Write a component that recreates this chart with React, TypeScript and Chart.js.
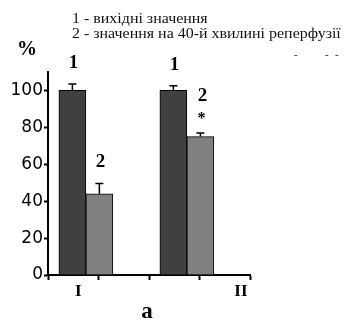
import React, { useEffect, useRef } from "react";
import { Chart, registerables } from "chart.js";

Chart.register(...registerables);

const categories = ["I", "II"];
const groupPositions = [0.75, 2.75];
const baselineValues = [100, 100];
const baselineErrors = [3.5, 2.6];
const reperfusionValues = [44, 75];
const reperfusionErrors = [5.6, 1.9];
const reperfusionMarks = ["", "*"];
const yTicks = [0, 10, 20, 30, 40, 50, 60, 70, 80, 90, 100, 110];
const legendLines = ["1 - вихідні значення", "2 - значення на 40-й хвилині реперфузії"];
const seriesNames = ["1", "2"];
const categoryLabelPositions = [0.6, 3.82];
const panelLabel = "а";
const yUnit = "%";

const annotate = {
  id: "annotate",
  afterDatasetsDraw(chart: any) {
    const ctx = chart.ctx;
    const y = chart.scales.y;
    const x = chart.scales.x;
    const errs = [baselineErrors, reperfusionErrors];
    const vals = [baselineValues, reperfusionValues];
    ctx.save();
    ctx.strokeStyle = "#000";
    ctx.fillStyle = "#000";
    ctx.lineWidth = 1.5;
    chart.data.datasets.forEach((ds: any, di: number) => {
      const meta = chart.getDatasetMeta(di);
      meta.data.forEach((el: any, i: number) => {
        const top = y.getPixelForValue(vals[di][i]);
        const et = y.getPixelForValue(vals[di][i] + errs[di][i]);
        ctx.beginPath();
        ctx.moveTo(el.x, top);
        ctx.lineTo(el.x, et);
        ctx.moveTo(el.x - 4, et);
        ctx.lineTo(el.x + 4, et);
        ctx.stroke();
        ctx.textAlign = "center";
        ctx.textBaseline = "middle";
        ctx.font = "bold 19px 'Liberation Serif'";
        if (di === 1 && reperfusionMarks[i]) {
          ctx.fillText(seriesNames[di], el.x + 2, et - 37);
          ctx.font = "bold 16px 'Liberation Serif'";
          ctx.fillText(reperfusionMarks[i], el.x + 1, et - 14);
        } else {
          ctx.fillText(seriesNames[di], el.x + 1, et - 21);
        }
      });
    });
    ctx.font = "bold 17px 'Liberation Serif'";
    ctx.textAlign = "center";
    ctx.textBaseline = "middle";
    categories.forEach((c, i) => {
      ctx.fillText(c, x.getPixelForValue(categoryLabelPositions[i]), y.bottom + 17);
    });
    ctx.font = "bold 23px 'Liberation Serif'";
    ctx.fillText(panelLabel, 147, 312);
    ctx.font = "bold 20px 'Liberation Serif'";
    ctx.fillText(yUnit, 27, 50);
    // legend (slightly stretched horizontally like the source image)
    ctx.fillStyle = "#111";
    ctx.textAlign = "left";
    ctx.save();
    ctx.translate(72, 0);
    ctx.scale(1.14, 1);
    ctx.font = "14px 'Liberation Serif'";
    legendLines.forEach((t, i) => ctx.fillText(t, 0, 19 + i * 15.5));
    ctx.restore();
    ctx.font = "11px 'Liberation Serif'";
    ctx.fillText("-", 294, 55);
    ctx.fillText("-", 325, 55);
    ctx.fillText("-", 335, 55);
    ctx.restore();
  },
};

export default function App() {
  const ref = useRef<HTMLCanvasElement>(null);
  useEffect(() => {
    if (!ref.current) return;
    const chart = new Chart(ref.current, {
      type: "bar",
      data: {
        datasets: [
          {
            label: seriesNames[0],
            data: groupPositions.map((p, i) => ({ x: p, y: baselineValues[i] })),
            backgroundColor: "#404040",
            borderColor: "#000",
            borderWidth: 1,
            barThickness: 27,
          },
          {
            label: seriesNames[1],
            data: groupPositions.map((p, i) => ({ x: p, y: reperfusionValues[i] })),
            backgroundColor: "#808080",
            borderColor: "#000",
            borderWidth: 1,
            barThickness: 27,
          },
        ],
      },
      options: {
        animation: false,
        responsive: false,
        maintainAspectRatio: false,
        devicePixelRatio: 1,
        layout: { padding: { left: 0, top: 72, right: 94, bottom: 0 } },
        plugins: { legend: { display: false }, tooltip: { enabled: false } },
        scales: {
          x: {
            type: "linear",
            min: 0,
            max: 4,
            offset: false,
            afterFit: (s: any) => {
              s.height = 47;
            },
            ticks: { stepSize: 1, callback: () => "" },
            grid: {
              offset: false,
              drawOnChartArea: false,
              drawTicks: true,
              tickLength: 5,
              tickColor: "#000",
              tickWidth: 2,
            },
            border: { display: true, color: "#000", width: 2 },
          },
          y: {
            min: 0,
            max: 110,
            afterFit: (s: any) => {
              s.width = 48;
            },
            afterBuildTicks: (s: any) => {
              s.ticks = yTicks.map((v) => ({ value: v }));
            },
            ticks: {
              callback: (v: any) => (Number(v) % 20 === 0 && Number(v) <= 100 ? String(v) : ""),
              font: { family: "'DejaVu Sans'", size: 17 },
              color: "#000",
              padding: 1,
            },
            grid: {
              drawOnChartArea: false,
              drawTicks: true,
              tickLength: 4,
              tickColor: "#000",
              tickWidth: (c: any) => (c.tick && c.tick.value % 20 === 0 ? 2 : 1.5),
            },
            border: { display: true, color: "#000", width: 2 },
          },
        },
      },
      plugins: [annotate],
    });
    return () => chart.destroy();
  }, []);
  return (
    <div style={{ position: "fixed", left: 0, top: 0, width: 344, height: 322, background: "#fff" }}>
      <canvas ref={ref} width={344} height={322} style={{ width: 344, height: 322 }} />
    </div>
  );
}
